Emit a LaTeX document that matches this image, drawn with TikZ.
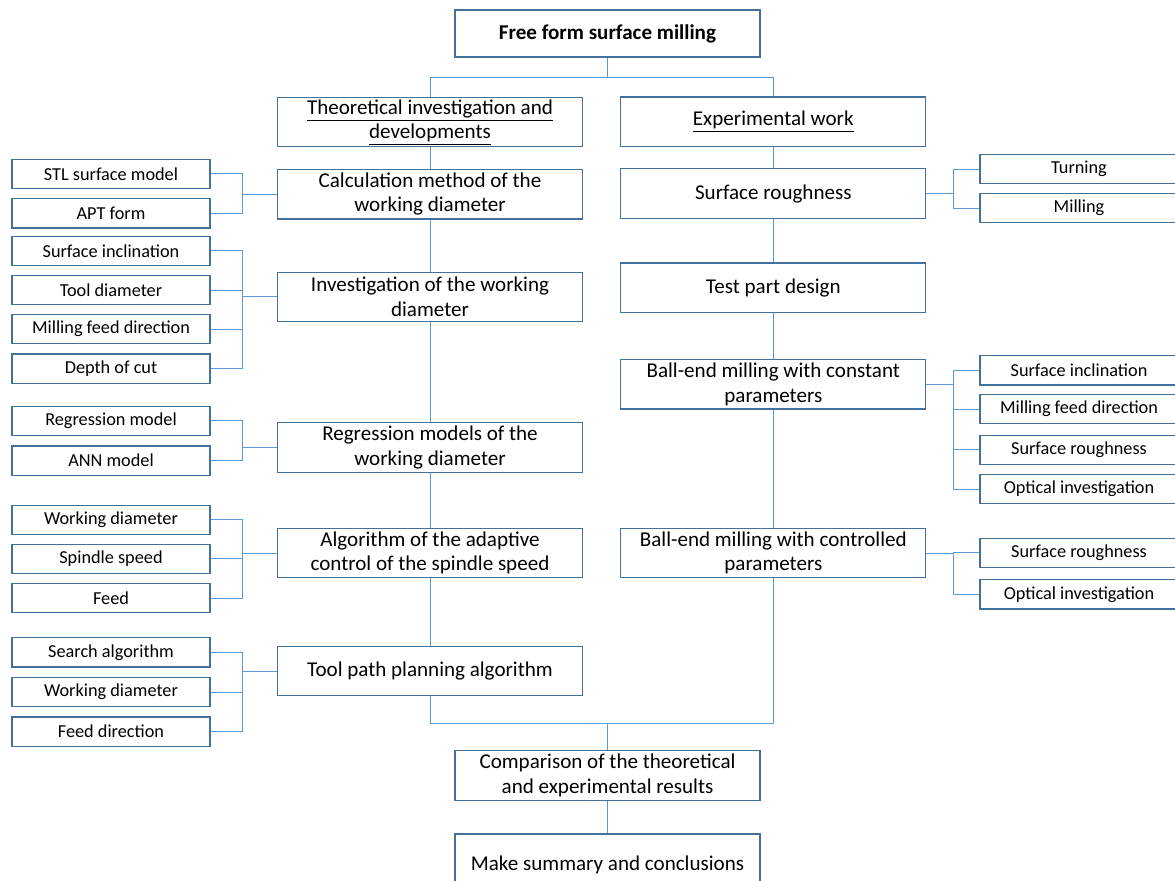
\documentclass[tikz,border=0pt]{standalone}
\usepackage{fontspec}
\setmainfont{Carlito}
\usepackage{tikz}
\usetikzlibrary{positioning}
\definecolor{boxblue}{HTML}{41719C}
\definecolor{linkblue}{HTML}{5B9BD5}
\newcommand{\mainsize}{\fontsize{15.8}{18.2}\selectfont}
\newcommand{\subsize}{\fontsize{13.7}{16}\selectfont}

\begin{document}
\begin{tikzpicture}[
  x=0.75pt,y=-0.75pt,
  font=\mainsize,
  mainbox/.style={draw=boxblue,line width=0.9pt,fill=white,minimum width=228.75pt,minimum height=37pt,align=center,inner sep=0pt},
  subbox/.style={draw=boxblue,line width=0.9pt,fill=white,minimum width=148.5pt,minimum height=21.9pt,inner sep=0pt,font=\subsize},
  link/.style={draw=linkblue,line width=0.75pt}
]
\useasboundingbox (0,0) rectangle (1175,881);
\fill[white] (0,0) rectangle (1175,881);

% main column, left
\node[mainbox,minimum height=35.25pt,font=\mainsize\bfseries] (top) at (607.5,33.5) {Free form surface milling};
\node[mainbox] (theo) at (430,122.2) {\underline{Theoretical investigation and}\\\underline{developments}};
\node[mainbox] (calc) at (430,194.3) {Calculation method of the\\working diameter};
\node[mainbox] (invest) at (430,296.8) {Investigation of the working\\diameter};
\node[mainbox] (regr) at (430,447.5) {Regression models of the\\working diameter};
\node[mainbox] (adapt) at (430,553) {Algorithm of the adaptive\\control of the spindle speed};
\node[mainbox] (path) at (430,671) {Tool path planning algorithm};

% main column, right
\node[mainbox] (exper) at (773.3,121.7) {\underline{Experimental work}};
\node[mainbox] (rough) at (773.3,193.5) {Surface roughness};
\node[mainbox] (test) at (773.3,287.6) {Test part design};
\node[mainbox] (const) at (773.3,384.4) {Ball-end milling with constant\\parameters};
\node[mainbox] (ctrl) at (773.3,553) {Ball-end milling with controlled\\parameters};

% results
\node[mainbox] (comp) at (607.5,775.5) {Comparison of the theoretical\\and experimental results};
\node[mainbox,minimum height=46.5pt] (summ) at (607.5,865) {Make summary and conclusions};

% factors on the left
\foreach \n/\y/\t in {stl/173.8/STL surface model,apt/213.3/APT form,
  incl/250.8/Surface inclination,tool/290.2/Tool diameter,mfd/329.2/Milling feed direction,depth/368.5/Depth of cut,
  regm/420.8/Regression model,ann/460.5/ANN model,
  wda/519.8/Working diameter,spin/558.7/Spindle speed,feed/598.2/Feed,
  search/652.3/Search algorithm,wdb/692/Working diameter,fdir/731.5/Feed direction}
  \node[subbox] (\n) at (111,\y) {\t};

% factors on the right
\foreach \n/\y/\t in {turn/169/Turning,mill/208/Milling,
  rincl/370.3/Surface inclination,rmfd/409.2/Milling feed direction,rrough/449.9/Surface roughness,ropt/489.1/Optical investigation,
  crough/552.7/Surface roughness,copt/594.3/Optical investigation}
  \node[subbox] (\n) at (1079,\y) {\t};

% tree links
\coordinate (split) at (607.5,77.5);
\coordinate (merge) at (607.5,723.5);
\draw[link] (top.south) -- (split);
\draw[link] (split) -| (theo.north);
\draw[link] (split) -| (exper.north);
\draw[link] (theo) -- (calc) -- (invest) -- (regr) -- (adapt) -- (path);
\draw[link] (exper) -- (rough) -- (test) -- (const) -- (ctrl);
\draw[link] (path.south) |- (merge);
\draw[link] (ctrl.south) |- (merge);
\draw[link] (merge) -- (comp.north);
\draw[link] (comp) -- (summ);

% brackets
\foreach \m/\s in {calc/stl,calc/apt,invest/incl,invest/tool,invest/mfd,invest/depth,
  regr/regm,regr/ann,adapt/wda,adapt/spin,adapt/feed,path/search,path/wdb,path/fdir}
  \draw[link] (\m.west) -- ++(-34.9,0) |- (\s.east);
\foreach \m/\s in {rough/turn,rough/mill,const/rincl,const/rmfd,const/rrough,const/ropt,ctrl/crough,ctrl/copt}
  \draw[link] (\m.east) -- ++(27.4,0) |- (\s.west);
\end{tikzpicture}
\end{document}
